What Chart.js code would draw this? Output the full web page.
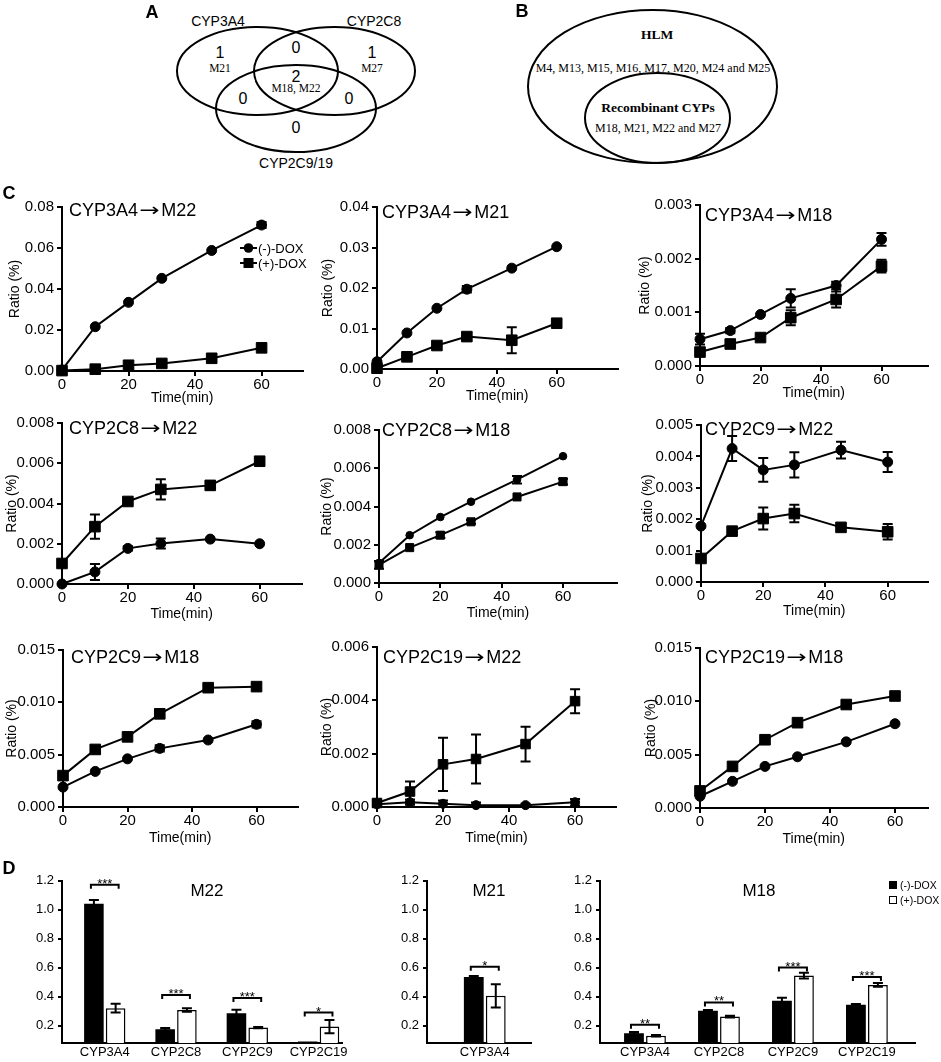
<!DOCTYPE html>
<html><head><meta charset="utf-8">
<script src="https://cdn.jsdelivr.net/npm/chart.js@4.4.1/dist/chart.umd.min.js"></script>
<style>
body{margin:0;background:#fff;}
#fig{position:relative;width:941px;height:1062px;overflow:hidden;font-family:"Liberation Sans",Arial,Helvetica,sans-serif;color:#000;background:#fff;}
.t{position:absolute;white-space:nowrap;line-height:1;}
.arr{display:inline-block;font-family:"DejaVu Sans",sans-serif;transform:scaleX(1.35);margin:0 4px;}
canvas{position:absolute;}
</style></head><body><div id="fig">
<svg width="941" height="175" style="position:absolute;left:0;top:0">
 <g fill="none" stroke="#000" stroke-width="2">
  <ellipse cx="257.5" cy="71" rx="80.5" ry="44"/>
  <ellipse cx="334.5" cy="71" rx="80.5" ry="44"/>
  <ellipse cx="296" cy="108.5" rx="80" ry="43.5"/>
  <ellipse cx="652.5" cy="86.5" rx="124.5" ry="76.5"/>
  <ellipse cx="657.5" cy="118" rx="72.5" ry="45"/>
 </g>
 <g text-anchor="middle" dominant-baseline="central" font-family="Liberation Sans, Arial, sans-serif" font-size="14">
  <text x="218" y="21">CYP3A4</text>
  <text x="374" y="21">CYP2C8</text>
  <text x="296" y="163">CYP2C9/19</text>
  <text x="220" y="52" font-size="16">1</text>
  <text x="296" y="47" font-size="16">0</text>
  <text x="372" y="52" font-size="16">1</text>
  <text x="296" y="76" font-size="16">2</text>
  <text x="243" y="98" font-size="16">0</text>
  <text x="349" y="98" font-size="16">0</text>
  <text x="296" y="127" font-size="16">0</text>
 </g>
 <g text-anchor="middle" dominant-baseline="central" font-family="Liberation Serif, Times New Roman, serif" font-size="11.5">
  <text x="220" y="68">M21</text>
  <text x="372" y="68">M27</text>
  <text x="296" y="88">M18, M22</text>
  <text x="657" y="34" font-size="13.5" font-weight="bold">HLM</text>
  <text x="653" y="68" font-size="12">M4, M13, M15, M16, M17, M20, M24 and M25</text>
  <text x="658" y="107" font-size="13.5" font-weight="bold">Recombinant CYPs</text>
  <text x="658" y="128" font-size="12">M18, M21, M22 and M27</text>
 </g>
</svg>
<svg width="941" height="1062" style="position:absolute;left:0;top:0;z-index:5">
 <line x1="240" y1="248" x2="257" y2="248" stroke="#000" stroke-width="2"/>
 <circle cx="248.5" cy="248" r="4.8" fill="#000"/>
 <line x1="240" y1="263" x2="257" y2="263" stroke="#000" stroke-width="2"/>
 <rect x="243.5" y="258" width="10" height="10" fill="#000"/>
</svg>
</div>
<script>
// ---------- DATA ----------
const times = [0, 10, 20, 30, 45, 60];
const xTickValues = [0, 20, 40, 60];
const seriesNames = ['(-)-DOX', '(+)-DOX'];
const lineTitles = ['CYP3A4\u2192M22','CYP3A4\u2192M21','CYP3A4\u2192M18','CYP2C8\u2192M22','CYP2C8\u2192M18','CYP2C9\u2192M22','CYP2C9\u2192M18','CYP2C19\u2192M22','CYP2C19\u2192M18'];

const c1Neg = [0.0005, 0.0216, 0.0335, 0.0452, 0.0588, 0.0712];
const c1NegErr = [0, 0, 0, 0, 0, 0.0015];
const c1Pos = [0.0002, 0.0009, 0.0028, 0.0037, 0.0062, 0.0113];
const c1PosErr = [0, 0, 0, 0, 0, 0];
const c1Ticks = [0, 0.02, 0.04, 0.06, 0.08];

const c2Neg = [0.0018, 0.0089, 0.0150, 0.0197, 0.0249, 0.0302];
const c2NegErr = [0, 0, 0, 0.0008, 0, 0];
const c2Pos = [0.0002, 0.0030, 0.0058, 0.0080, 0.0071, 0.0113];
const c2PosErr = [0, 0, 0, 0, 0.0032, 0.0008];
const c2Ticks = [0, 0.01, 0.02, 0.03, 0.04];

const c3Neg = [0.0005, 0.00066, 0.00096, 0.00126, 0.0015, 0.00236];
const c3NegErr = [0.0001, 0.00005, 0, 0.00017, 0.00007, 0.00012];
const c3Pos = [0.00026, 0.00041, 0.00053, 0.0009, 0.00124, 0.00186];
const c3PosErr = [0.00005, 0.00005, 0, 0.00014, 0.00015, 0.00012];
const c3Ticks = [0, 0.001, 0.002, 0.003];

const c4Neg = [0.0000, 0.0006, 0.00177, 0.00201, 0.00223, 0.00200];
const c4NegErr = [0, 0.0004, 0.0001, 0.00025, 0, 0];
const c4Pos = [0.00102, 0.00285, 0.0041, 0.0047, 0.0049, 0.0061];
const c4PosErr = [0, 0.0006, 0, 0.0005, 0.0002, 0.0002];
const c4Ticks = [0, 0.002, 0.004, 0.006, 0.008];

const c5Neg = [0.00105, 0.0025, 0.00345, 0.00425, 0.0054, 0.00663];
const c5NegErr = [0, 0, 0, 0, 0.0002, 0];
const c5Pos = [0.00095, 0.00185, 0.0025, 0.0032, 0.0045, 0.0053];
const c5PosErr = [0.0002, 0, 0.00015, 0.0001, 0, 0.00015];
const c5Ticks = [0, 0.002, 0.004, 0.006, 0.008];

const c6Neg = [0.00178, 0.00425, 0.00357, 0.00373, 0.0042, 0.00382];
const c6NegErr = [0, 0.0004, 0.00038, 0.0004, 0.00027, 0.00032];
const c6Pos = [0.00075, 0.00162, 0.00202, 0.00218, 0.00174, 0.0016];
const c6PosErr = [0.0001, 0, 0.00035, 0.00028, 0, 0.00025];
const c6Ticks = [0, 0.001, 0.002, 0.003, 0.004, 0.005];

const c7Neg = [0.0019, 0.0034, 0.0046, 0.0056, 0.0064, 0.0079];
const c7NegErr = [0, 0, 0, 0.0003, 0, 0.0003];
const c7Pos = [0.0030, 0.0055, 0.0067, 0.0089, 0.0114, 0.0115];
const c7PosErr = [0, 0, 0, 0, 0, 0.0003];
const c7Ticks = [0, 0.005, 0.010, 0.015];

const c8Neg = [0.0001, 0.00018, 0.00012, 0.00007, 0.00007, 0.00018];
const c8NegErr = [0.0001, 0.0001, 0.00012, 0.0001, 0.00005, 0.00012];
const c8Pos = [0.00015, 0.00058, 0.0016, 0.0018, 0.00236, 0.00397];
const c8PosErr = [0.0001, 0.00038, 0.001, 0.00092, 0.00065, 0.00045];
const c8Ticks = [0, 0.002, 0.004, 0.006];

const c9Neg = [0.0011, 0.0025, 0.0039, 0.0048, 0.0062, 0.0079];
const c9NegErr = [0, 0, 0, 0, 0, 0];
const c9Pos = [0.0016, 0.0039, 0.0064, 0.0080, 0.0097, 0.0105];
const c9PosErr = [0, 0, 0, 0, 0, 0];
const c9Ticks = [0, 0.005, 0.010, 0.015];

const barYTicks = [0.2, 0.4, 0.6, 0.8, 1.0, 1.2];
const m22Cats = ['CYP3A4', 'CYP2C8', 'CYP2C9', 'CYP2C19'];
const m22Neg = [1.04, 0.175, 0.285, 0.09];
const m22NegErr = [0.025, 0.008, 0.025, 0];
const m22Pos = [0.32, 0.307, 0.186, 0.193];
const m22PosErr = [0.03, 0.012, 0.005, 0.045];
const m22SigLevel = [1.17, 0.41, 0.39, 0.29];
const m22Sig = ['***', '***', '***', '*'];

const m21Cats = ['CYP3A4'];
const m21Neg = [0.535];
const m21NegErr = [0.006];
const m21Pos = [0.405];
const m21PosErr = [0.08];
const m21SigLevel = [0.605];
const m21Sig = ['*'];

const m18Cats = ['CYP3A4', 'CYP2C8', 'CYP2C9', 'CYP2C19'];
const m18Neg = [0.148, 0.303, 0.372, 0.343];
const m18NegErr = [0.008, 0.005, 0.02, 0.006];
const m18Pos = [0.13, 0.262, 0.545, 0.48];
const m18PosErr = [0.005, 0.006, 0.02, 0.013];
const m18SigLevel = [0.205, 0.36, 0.6, 0.535];
const m18Sig = ['**', '**', '***', '***'];

// ---------- HELPERS ----------
const fig = document.getElementById('fig');
function txt(s, x, y, size, o = {}) {
  const d = document.createElement('div');
  d.className = 't';
  if (o.arrow && s.includes('\u2192')) {
    const parts = s.split('\u2192');
    d.appendChild(document.createTextNode(parts[0]));
    const a = document.createElement('span'); a.className = 'arr'; a.textContent = '\u2192';
    d.appendChild(a);
    d.appendChild(document.createTextNode(parts[1]));
  } else {
    d.textContent = s;
  }
  d.style.fontSize = size + 'px'; d.style.left = x + 'px'; d.style.top = y + 'px';
  d.style.transform = o.left ? 'translate(0,-50%)' : 'translate(-50%,-50%)';
  if (o.bold) d.style.fontWeight = 'bold';
  d.style.zIndex = 6;
  fig.appendChild(d);
}
function mkCanvas(left, top, w, h) {
  const cv = document.createElement('canvas');
  cv.width = w; cv.height = h;
  cv.style.left = left + 'px'; cv.style.top = top + 'px';
  cv.style.width = w + 'px'; cv.style.height = h + 'px';
  fig.appendChild(cv);
  return cv;
}

Chart.defaults.font.family = '"Liberation Sans", Arial, Helvetica, sans-serif';
Chart.defaults.color = '#000';

const errPlugin = {
  id: 'errbars',
  afterDatasetsDraw(chart) {
    const ctx = chart.ctx, ys = chart.scales.y;
    ctx.save(); ctx.strokeStyle = '#000'; ctx.lineWidth = 2;
    chart.data.datasets.forEach((ds, di) => {
      if (!ds.errors) return;
      const meta = chart.getDatasetMeta(di);
      meta.data.forEach((el, j) => {
        const e = ds.errors[j]; if (!e) return;
        const raw = ds.data[j]; const v = typeof raw === 'object' ? raw.y : raw;
        const y1 = ys.getPixelForValue(v + e);
        const y2 = ys.getPixelForValue(Math.max(v - e, ys.min));
        const hw = ds.capHalf || 5;
        ctx.beginPath();
        ctx.moveTo(el.x, y1); ctx.lineTo(el.x, y2);
        ctx.moveTo(el.x - hw, y1); ctx.lineTo(el.x + hw, y1);
        ctx.moveTo(el.x - hw, y2); ctx.lineTo(el.x + hw, y2);
        ctx.stroke();
      });
    });
    ctx.restore();
  }
};

const sigPlugin = {
  id: 'sig',
  afterDatasetsDraw(chart, args, opts) {
    if (!opts || !opts.levels) return;
    const ctx = chart.ctx, ys = chart.scales.y;
    const m0 = chart.getDatasetMeta(0), m1 = chart.getDatasetMeta(1);
    ctx.save(); ctx.strokeStyle = '#000'; ctx.fillStyle = '#000'; ctx.lineWidth = 2;
    ctx.font = '13px "Liberation Sans", Arial, sans-serif';
    ctx.textAlign = 'center'; ctx.textBaseline = 'alphabetic';
    opts.levels.forEach((lv, j) => {
      const xa = m0.data[j].x - 3, xb = m1.data[j].x + 3, y = ys.getPixelForValue(lv);
      ctx.beginPath();
      ctx.moveTo(xa, y + 4); ctx.lineTo(xa, y); ctx.lineTo(xb, y); ctx.lineTo(xb, y + 4);
      ctx.stroke();
      ctx.fillText(opts.labels[j], (xa + xb) / 2, y + 3);
    });
    ctx.restore();
  }
};

function axisStyle(tl) {
  return {
    border: {display: true, color: '#000', width: 2},
    grid: {display: true, drawOnChartArea: false, drawTicks: true, tickLength: tl, color: '#000', lineWidth: 2}
  };
}

function makeLine(s) {
  const [x0, x1, yTop, yBot] = s.area;
  const L = x0 - (s.yTitleX - 7), T = 14, R = 8, B = s.B;
  const left = x0 - L, top = yTop - T;
  const w = x1 + R - left, h = yBot + B - top;
  const cv = mkCanvas(left, top, w, h);
  const mk = (vals, errs, style, name, rad) => ({
    label: name,
    data: times.map((t, i) => ({x: t, y: vals[i]})),
    errors: errs,
    borderColor: '#000', backgroundColor: '#000', borderWidth: 2,
    pointStyle: style, pointRadius: rad, pointBackgroundColor: '#000', pointBorderColor: '#000', pointBorderWidth: 1,
    tension: 0, clip: false, capHalf: 5
  });
  new Chart(cv, {
    type: 'line',
    data: {datasets: [mk(s.neg, s.negErr, 'circle', seriesNames[0], s.r), mk(s.pos, s.posErr, 'rect', seriesNames[1], s.r * 1.5)]},
    options: {
      responsive: false, animation: false,
      layout: {padding: {left: 0, top: T, right: R, bottom: 0}},
      plugins: {legend: {display: false}, tooltip: {enabled: false}},
      scales: {
        x: Object.assign({
          type: 'linear', min: 0, max: s.xMax,
          afterBuildTicks: sc => { sc.ticks = xTickValues.map(v => ({value: v})); },
          afterFit: sc => { sc.height = B; },
          ticks: {font: {size: 15, lineHeight: 1}, padding: 1, autoSkip: false, maxRotation: 0, callback: v => String(v)},
          title: {display: true, text: 'Time(min)', font: {size: 14, lineHeight: 1}, padding: 0}
        }, axisStyle(5)),
        y: Object.assign({
          min: 0, max: s.yTicks[s.yTicks.length - 1],
          afterBuildTicks: sc => { sc.ticks = s.yTicks.map(v => ({value: v})); },
          afterFit: sc => { sc.width = L; },
          ticks: {font: {size: 15, lineHeight: 1}, padding: 3, callback: v => Number(v).toFixed(s.dec)},
          title: {display: true, text: 'Ratio (%)', font: {size: 14, lineHeight: 1}, padding: 0}
        }, axisStyle(5))
      }
    },
    plugins: [errPlugin]
  });
  txt(s.title, s.tx, s.ty, 18, {left: true, arrow: true});
}

function makeBar(s) {
  const [x0, x1, yTop, yBot] = s.area;
  const L = 45, T = 10, R = 6, B = 24;
  const left = x0 - L, top = yTop - T;
  const w = x1 + R - left, h = yBot + B - top;
  const cv = mkCanvas(left, top, w, h);
  new Chart(cv, {
    type: 'bar',
    data: {datasets: [
      {label: seriesNames[0], data: s.neg.map((v, i) => ({x: i, y: v})), errors: s.negErr, capHalf: 5,
       backgroundColor: '#000', borderColor: '#000', borderWidth: 0, categoryPercentage: s.cp, barPercentage: 0.9},
      {label: seriesNames[1], data: s.pos.map((v, i) => ({x: i, y: v})), errors: s.posErr, capHalf: 5,
       backgroundColor: '#fff', borderColor: '#000', borderWidth: 1.5, categoryPercentage: s.cp, barPercentage: 0.9}
    ]},
    options: {
      responsive: false, animation: false,
      layout: {padding: {left: 0, top: T, right: R, bottom: 0}},
      plugins: {legend: {display: false}, tooltip: {enabled: false}, sig: {levels: s.sigLevels, labels: s.sigLabels}},
      scales: {
        x: {
          type: 'linear', min: s.xMin, max: s.xMax, offset: false,
          afterBuildTicks: sc => { sc.ticks = s.cats.map((c, i) => ({value: i})); },
          afterFit: sc => { sc.height = B; },
          ticks: {font: {size: 13, lineHeight: 1}, padding: 3, autoSkip: false, maxRotation: 0, callback: v => s.cats[v]},
          border: {display: true, color: '#000', width: 2},
          grid: {display: true, drawOnChartArea: false, drawTicks: false, offset: false}
        },
        y: Object.assign({
          min: 0.08, max: 1.2,
          afterBuildTicks: sc => { sc.ticks = barYTicks.map(v => ({value: v})); },
          afterFit: sc => { sc.width = L; },
          ticks: {font: {size: 13, lineHeight: 1}, padding: 4, callback: v => Number(v).toFixed(1)}
        }, axisStyle(4))
      }
    },
    plugins: [errPlugin, sigPlugin]
  });
  txt(s.title, s.tx, s.ty, 17);
}

// ---------- PANEL C ----------
const lineSpecs = [
  {title: lineTitles[0], neg: c1Neg, negErr: c1NegErr, pos: c1Pos, posErr: c1PosErr, yTicks: c1Ticks, dec: 2, area: [62, 303, 207, 371], xMax: 72.3, yTitleX: 15, B: 34, tx: 69, ty: 210, r: 5},
  {title: lineTitles[1], neg: c2Neg, negErr: c2NegErr, pos: c2Pos, posErr: c2PosErr, yTicks: c2Ticks, dec: 2, area: [377, 618, 207, 369], xMax: 80.3, yTitleX: 328, B: 34, tx: 382, ty: 212, r: 5},
  {title: lineTitles[2], neg: c3Neg, negErr: c3NegErr, pos: c3Pos, posErr: c3PosErr, yTicks: c3Ticks, dec: 3, area: [700, 928, 205, 366], xMax: 75.2, yTitleX: 645, B: 34, tx: 705, ty: 215, r: 5},
  {title: lineTitles[3], neg: c4Neg, negErr: c4NegErr, pos: c4Pos, posErr: c4PosErr, yTicks: c4Ticks, dec: 3, area: [62, 302, 423, 584], xMax: 72.7, yTitleX: 12, B: 37, tx: 69, ty: 428, r: 5},
  {title: lineTitles[4], neg: c5Neg, negErr: c5NegErr, pos: c5Pos, posErr: c5PosErr, yTicks: c5Ticks, dec: 3, area: [379, 617, 430, 583], xMax: 77.6, yTitleX: 327, B: 37, tx: 382, ty: 430, r: 3.8},
  {title: lineTitles[5], neg: c6Neg, negErr: c6NegErr, pos: c6Pos, posErr: c6PosErr, yTicks: c6Ticks, dec: 3, area: [701, 928, 425, 582], xMax: 72.8, yTitleX: 648, B: 36, tx: 705, ty: 429, r: 5},
  {title: lineTitles[6], neg: c7Neg, negErr: c7NegErr, pos: c7Pos, posErr: c7PosErr, yTicks: c7Ticks, dec: 3, area: [63, 298, 650, 807], xMax: 72.7, yTitleX: 12, B: 38, tx: 71, ty: 657, r: 5},
  {title: lineTitles[7], neg: c8Neg, negErr: c8NegErr, pos: c8Pos, posErr: c8PosErr, yTicks: c8Ticks, dec: 3, area: [377, 616, 647, 807], xMax: 72.4, yTitleX: 327, B: 38, tx: 383, ty: 657, r: 4.5},
  {title: lineTitles[8], neg: c9Neg, negErr: c9NegErr, pos: c9Pos, posErr: c9PosErr, yTicks: c9Ticks, dec: 3, area: [700, 928, 648, 808], xMax: 70, yTitleX: 651, B: 38, tx: 705, ty: 657, r: 5}
];
lineSpecs.forEach(makeLine);

// ---------- PANEL D ----------
makeBar({title: 'M22', tx: 207, ty: 890, cats: m22Cats, neg: m22Neg, negErr: m22NegErr, pos: m22Pos, posErr: m22PosErr, sigLevels: m22SigLevel, sigLabels: m22Sig, area: [62, 345, 880, 1043], xMin: -0.6, xMax: 3.33, cp: 0.61});
makeBar({title: 'M21', tx: 489, ty: 890, cats: m21Cats, neg: m21Neg, negErr: m21NegErr, pos: m21Pos, posErr: m21PosErr, sigLevels: m21SigLevel, sigLabels: m21Sig, area: [427, 531, 880, 1043], xMin: -1, xMax: 0.8, cp: 0.423});
makeBar({title: 'M18', tx: 759, ty: 890, cats: m18Cats, neg: m18Neg, negErr: m18NegErr, pos: m18Pos, posErr: m18PosErr, sigLevels: m18SigLevel, sigLabels: m18Sig, area: [600, 915, 880, 1043], xMin: -0.608, xMax: 3.65, cp: 0.595});

// ---------- LABELS / LEGENDS ----------
txt('A', 152, 12, 18, {bold: true});
txt('B', 522, 11, 18, {bold: true});
txt('C', 9, 193, 18, {bold: true});
txt('D', 9, 868, 18, {bold: true});
txt(seriesNames[0], 258, 248, 13, {left: true});
txt(seriesNames[1], 258, 263, 13, {left: true});

function sq(x, y, filled) {
  const d = document.createElement('div');
  d.style.cssText = 'position:absolute;box-sizing:border-box;width:8px;height:8px;left:' + (x - 4) + 'px;top:' + (y - 4) + 'px;border:1.2px solid #000;background:' + (filled ? '#000' : '#fff');
  fig.appendChild(d);
}
sq(893, 885, true); sq(893, 900, false);
txt(seriesNames[0], 900, 885, 10.5, {left: true});
txt(seriesNames[1], 900, 900, 10.5, {left: true});
</script>
</body></html>
